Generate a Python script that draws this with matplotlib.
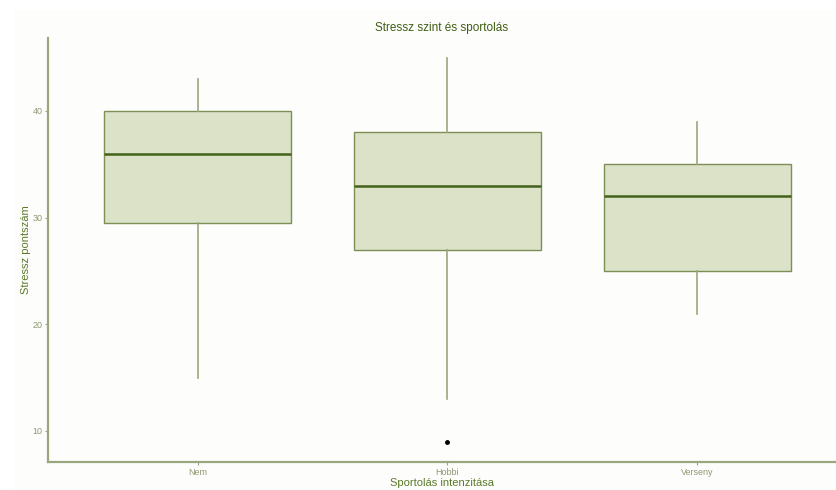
import matplotlib
matplotlib.use("Agg")
import matplotlib.pyplot as plt
from matplotlib.patches import Rectangle

plt.rcParams["font.family"] = ["Liberation Sans", "DejaVu Sans"]

categories = ["Nem", "Hobbi", "Verseny"]
whisker_low = [15, 13, 21]
q1 = [29.5, 27, 25]
median = [36, 33, 32]
q3 = [40, 38, 35]
whisker_high = [43, 45, 39]
outliers = [[], [9], []]

W, H = 836, 490
fig = plt.figure(figsize=(W / 100, H / 100), dpi=100, facecolor="white")
fig.patches.append(Rectangle((14 / W, 0), 1, 1 - 10 / H, transform=fig.transFigure,
                             facecolor="#fdfdfb", edgecolor="none", zorder=-10))

ax = fig.add_axes([48 / W, 1 - 462 / H, 1 - 48 / W, (462 - 38) / H])
ax.set_facecolor("none")

stats = []
for i, c in enumerate(categories):
    stats.append(dict(label=c, whislo=whisker_low[i], q1=q1[i], med=median[i],
                      q3=q3[i], whishi=whisker_high[i], fliers=outliers[i]))

pos = list(range(1, len(categories) + 1))
ax.bxp(stats, positions=pos, widths=0.75, patch_artist=True, showcaps=False,
       boxprops=dict(facecolor="#dbe2c8", edgecolor="#7d8f55", linewidth=1.0),
       whiskerprops=dict(color="#9aa77e", linewidth=1.2),
       medianprops=dict(color="#45621c", linewidth=1.8),
       flierprops=dict(marker="o", markersize=2.5, markerfacecolor="black",
                       markeredgecolor="black"))

ax.set_xlim(0.4, 3.556)
ax.set_ylim(7.09, 46.84)
ax.set_yticks([10, 20, 30, 40])
ax.set_xticks(pos)
ax.set_xticklabels(categories)

for s in ["top", "right"]:
    ax.spines[s].set_visible(False)
for s in ["left", "bottom"]:
    ax.spines[s].set_color("#9aa77e")
    ax.spines[s].set_linewidth(1.6)

ax.tick_params(axis="both", colors="#9aa77e", length=2, width=0.8,
               labelsize=6.5, labelcolor="#8d9a72", pad=2)

ax.set_title("Stressz szint és sportolás", fontsize=8.5, color="#3f5e14", pad=5)
ax.set_xlabel("Sportolás intenzitása", fontsize=8, color="#5b7a2b", labelpad=1)
ax.set_ylabel("Stressz pontszám", fontsize=8, color="#5b7a2b", labelpad=1)

fig.savefig("out.png", dpi=100, facecolor="white")
